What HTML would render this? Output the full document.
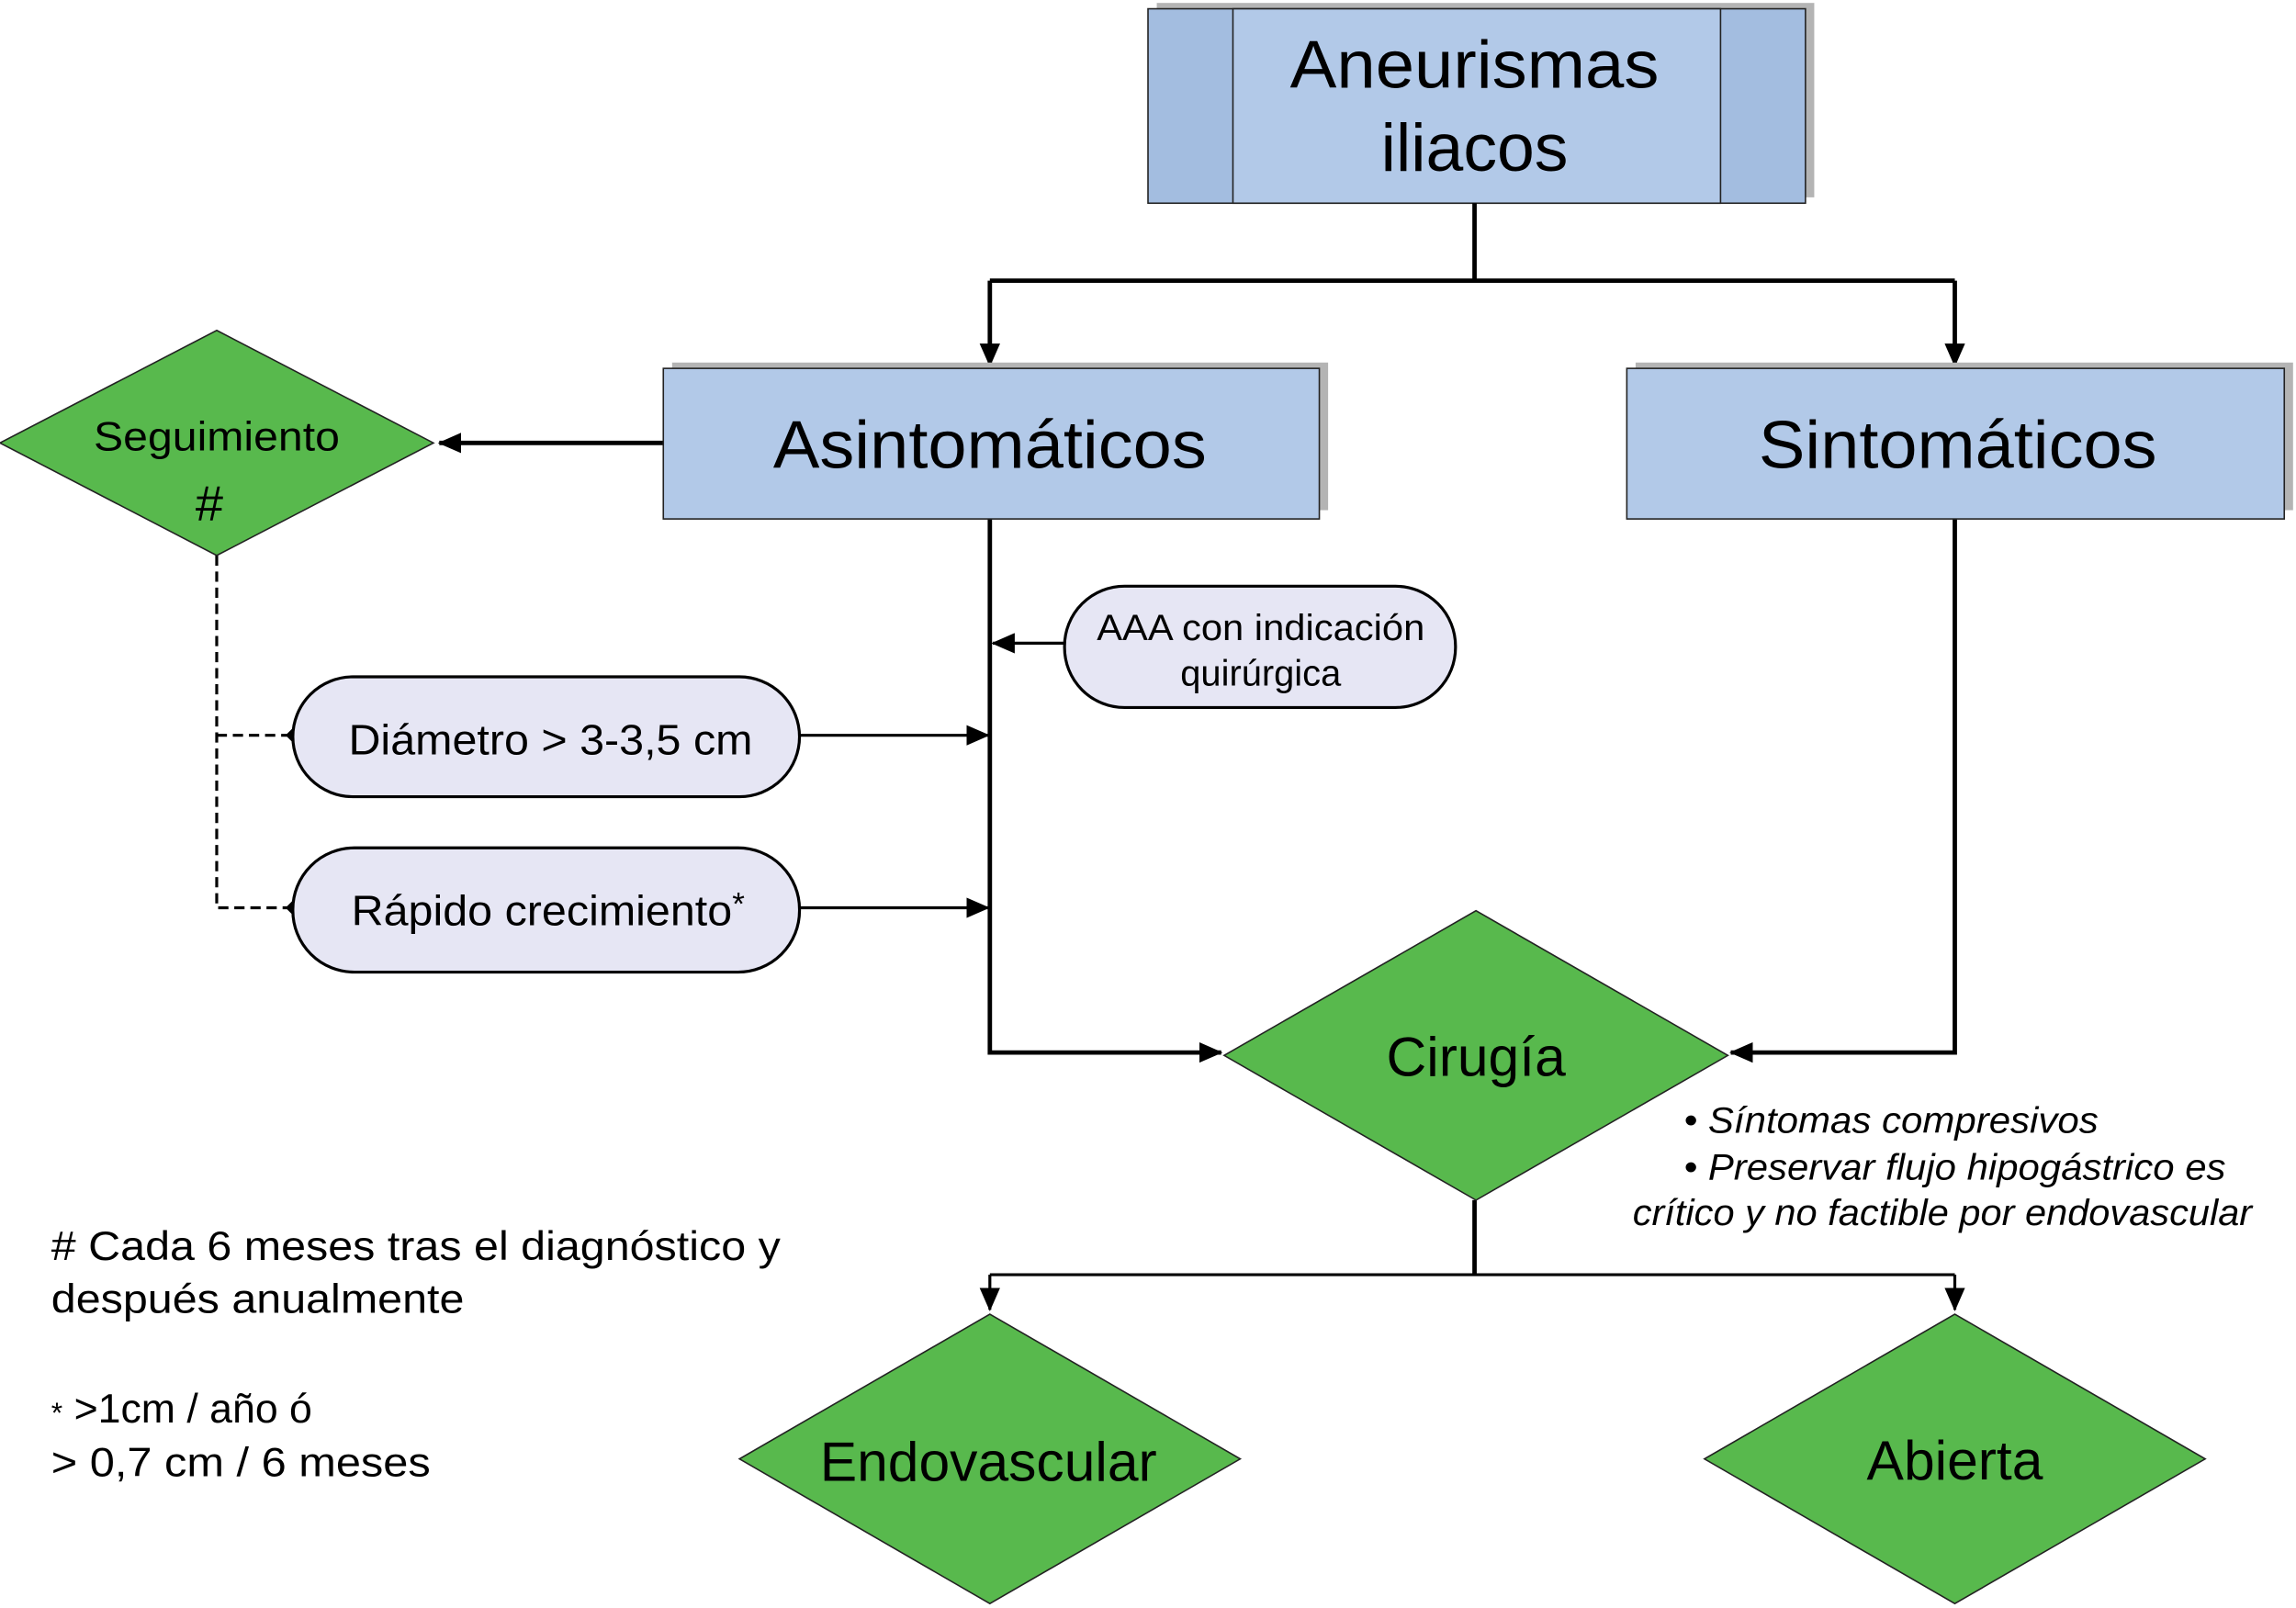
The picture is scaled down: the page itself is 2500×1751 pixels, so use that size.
<!DOCTYPE html>
<html><head><meta charset="utf-8"><style>html,body{margin:0;padding:0;background:#fff}svg{display:block}</style></head>
<body>
<svg width="2500" height="1751" viewBox="0 0 1568 1100" preserveAspectRatio="none" xmlns="http://www.w3.org/2000/svg" font-family="Liberation Sans, sans-serif">
<defs>
<marker id="a2" markerWidth="16" markerHeight="14" refX="15" refY="7" orient="auto" markerUnits="userSpaceOnUse"><path d="M0,0 L16,7 L0,14 z" fill="#000"/></marker>
</defs>
<rect x="790" y="2" width="449" height="133" fill="#b4b4b4"/>
<rect x="784" y="6" width="449" height="133" fill="#a3bde0" stroke="#222" stroke-width="1"/>
<rect x="842" y="6" width="333" height="133" fill="#b2c9e8" stroke="#222" stroke-width="1"/>
<text x="1007" y="60" font-size="46" text-anchor="middle" textLength="252" lengthAdjust="spacingAndGlyphs">Aneurismas</text>
<text x="1007" y="117" font-size="46" text-anchor="middle">iliacos</text>
<g stroke="#000" stroke-width="3" fill="none">
<path d="M1007,139 V192"/>
<path d="M676,192 H1335"/>
<path d="M676,192 V250" marker-end="url(#a2)"/>
<path d="M1335,192 V250" marker-end="url(#a2)"/>
<path d="M453,303 H300" marker-end="url(#a2)"/>
<path d="M676,355 V720 H834" marker-end="url(#a2)"/>
<path d="M1335,355 V720 H1182" marker-end="url(#a2)"/>
<path d="M1007,821 V872"/>
</g>
<g stroke="#000" stroke-width="2" fill="none">
<path d="M676,872 H1335"/>
<path d="M676,872 V896" marker-end="url(#a2)"/>
<path d="M1335,872 V896" marker-end="url(#a2)"/>
<path d="M546,503 H675" marker-end="url(#a2)"/>
<path d="M546,621 H675" marker-end="url(#a2)"/>
<path d="M727,440 H678" marker-end="url(#a2)"/>
<path d="M148,380 V621 H196 M148,503 H196" stroke-dasharray="7,4"/>
</g>
<path d="M195,503 l5,-5 l5,5 l-5,5z M195,621 l5,-5 l5,5 l-5,5z" fill="#000"/>
<rect x="459" y="248" width="448" height="101" fill="#b4b4b4"/>
<rect x="453" y="252" width="448" height="103" fill="#b2c9e8" stroke="#222" stroke-width="1"/>
<text x="676" y="320" font-size="46" text-anchor="middle" textLength="296" lengthAdjust="spacingAndGlyphs">Asintomáticos</text>
<rect x="1117" y="248" width="449" height="101" fill="#b4b4b4"/>
<rect x="1111" y="252" width="449" height="103" fill="#b2c9e8" stroke="#222" stroke-width="1"/>
<text x="1337" y="320" font-size="46" text-anchor="middle" textLength="272" lengthAdjust="spacingAndGlyphs">Sintomáticos</text>
<polygon points="148,226 296,303 148,380 0,303" fill="#58b94d" stroke="#222" stroke-width="1"/>
<text x="148" y="308" font-size="28" text-anchor="middle" textLength="168" lengthAdjust="spacingAndGlyphs">Seguimiento</text>
<text x="143" y="356" font-size="34" text-anchor="middle">#</text>
<polygon points="1008,623 1180,722 1008,821 836,722" fill="#58b94d" stroke="#222" stroke-width="1"/>
<text x="1008" y="736" font-size="38" text-anchor="middle">Cirugía</text>
<polygon points="676,899 847,998 676,1097 505,998" fill="#58b94d" stroke="#222" stroke-width="1"/>
<text x="675" y="1013" font-size="38" text-anchor="middle">Endovascular</text>
<polygon points="1335,899 1506,998 1335,1097 1164,998" fill="#58b94d" stroke="#222" stroke-width="1"/>
<text x="1335" y="1012" font-size="38" text-anchor="middle">Abierta</text>
<rect x="200" y="463" width="346" height="82" rx="41" fill="#e6e6f4" stroke="#000" stroke-width="2"/>
<text x="238" y="516" font-size="29" textLength="276" lengthAdjust="spacingAndGlyphs">Diámetro &gt; 3-3,5 cm</text>
<rect x="200" y="580" width="346" height="85" rx="42" fill="#e6e6f4" stroke="#000" stroke-width="2"/>
<text x="240" y="633" font-size="29" textLength="260" lengthAdjust="spacingAndGlyphs">Rápido crecimiento</text>
<text x="500" y="626" font-size="22">*</text>
<rect x="727" y="401" width="267" height="83" rx="41" fill="#e6e6f4" stroke="#000" stroke-width="2"/>
<text x="861" y="438" font-size="25" text-anchor="middle" textLength="224" lengthAdjust="spacingAndGlyphs">AAA con indicación</text>
<text x="861" y="469" font-size="25" text-anchor="middle">quirúrgica</text>
<g font-size="25" font-style="italic">
<text x="1150" y="775" textLength="283" lengthAdjust="spacingAndGlyphs">• Síntomas compresivos</text>
<text x="1150" y="807" textLength="370" lengthAdjust="spacingAndGlyphs">• Preservar flujo hipogástrico es</text>
<text x="1115" y="838" textLength="423" lengthAdjust="spacingAndGlyphs">crítico y no factible por endovascular</text>
</g>
<g font-size="28">
<text x="35" y="862" textLength="498" lengthAdjust="spacingAndGlyphs"># Cada 6 meses tras el diagnóstico y</text>
<text x="35" y="898" textLength="282" lengthAdjust="spacingAndGlyphs">después anualmente</text>
<text x="35" y="973"><tspan font-size="20">*</tspan> &gt;1cm / año ó</text>
<text x="35" y="1010" textLength="259" lengthAdjust="spacingAndGlyphs">&gt; 0,7 cm / 6 meses</text>
</g>
</svg>
</body></html>
